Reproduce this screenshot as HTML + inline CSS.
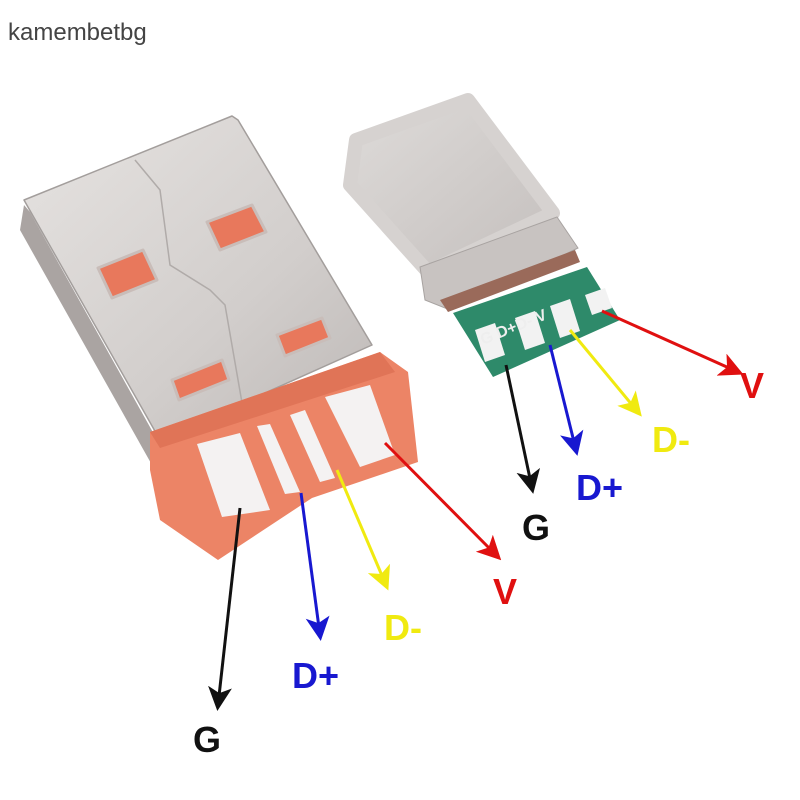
<!DOCTYPE html>
<html><head><style>
html,body{margin:0;padding:0;background:#fff;}
svg{display:block;}
</style></head><body>
<svg width="800" height="800" viewBox="0 0 800 800" xmlns="http://www.w3.org/2000/svg">
<defs>
<linearGradient id="met" x1="0" y1="0" x2="1" y2="1">
<stop offset="0" stop-color="#e6e3e1"/><stop offset="0.6" stop-color="#d2cecc"/><stop offset="1" stop-color="#bdb8b6"/>
</linearGradient>
<linearGradient id="met2" x1="0" y1="0" x2="1" y2="1">
<stop offset="0" stop-color="#dedbd9"/><stop offset="1" stop-color="#c4bfbd"/>
</linearGradient>
<marker id="aK" markerWidth="8" markerHeight="8" refX="6" refY="4" orient="auto" markerUnits="strokeWidth"><path d="M0,0 L8,4 L0,8 L2,4z" fill="#111"/></marker>
<marker id="aB" markerWidth="8" markerHeight="8" refX="6" refY="4" orient="auto" markerUnits="strokeWidth"><path d="M0,0 L8,4 L0,8 L2,4z" fill="#1818d0"/></marker>
<marker id="aY" markerWidth="8" markerHeight="8" refX="6" refY="4" orient="auto" markerUnits="strokeWidth"><path d="M0,0 L8,4 L0,8 L2,4z" fill="#f0ea10"/></marker>
<marker id="aR" markerWidth="8" markerHeight="8" refX="6" refY="4" orient="auto" markerUnits="strokeWidth"><path d="M0,0 L8,4 L0,8 L2,4z" fill="#e01010"/></marker>
</defs>
<text x="8" y="40" font-family="Liberation Sans, sans-serif" font-size="24" fill="#444">kamembetbg</text>

<!-- USB-A body -->
<polygon points="24,205 30,212 160,445 152,465 20,230" fill="#aaa4a2"/>
<polygon points="24,200 232,116 238,120 372,345 160,440" fill="url(#met)" stroke="#a39e9c" stroke-width="1.5" stroke-linejoin="round"/>
<polyline points="135,160 160,190 170,265 210,290 225,305 245,420" fill="none" stroke="#b0aba9" stroke-width="1.5"/>
<g fill="#e8785c" stroke="#c9bdb9" stroke-width="3" stroke-linejoin="round">
<polygon points="207,222 252,205 266,232 220,250"/>
<polygon points="98,268 143,250 157,280 112,298"/>
<polygon points="277,335 322,318 330,338 285,356"/>
<polygon points="172,380 222,360 229,380 179,400"/>
</g>
<!-- orange housing -->
<polygon points="150,432 380,352 408,372 418,462 312,498 218,560 160,520 150,470" fill="#ec8466"/>
<polygon points="150,432 380,352 395,372 160,448" fill="#e07457"/>
<g fill="#f4f2f2">
<polygon points="197,444 240,433 270,510 222,517"/>
<polygon points="257,426 270,424 300,492 285,494"/>
<polygon points="290,415 305,410 335,478 320,482"/>
<polygon points="325,397 370,385 395,455 360,467"/>
</g>

<!-- Type-C -->
<polygon points="356,140 468,100 553,213 428,272 350,185" fill="url(#met2)" stroke="#d6d2d0" stroke-width="14" stroke-linejoin="round"/>
<polygon points="420,267 557,217 578,248 450,310 425,300" fill="#c8c3c1" stroke="#a8a3a1" stroke-width="1"/>
<polygon points="440,300 575,250 580,262 448,312" fill="#9a6a5a"/>
<polygon points="453,313 587,267 620,320 493,377" fill="#2e8a6a"/>
<g fill="#f2f2f2"><polygon points="475,330 495,323 505,355 485,362"/><polygon points="515,318 535,311 545,343 525,350"/><polygon points="550,306 570,299 580,331 560,338"/><polygon points="585,295 605,288 612,308 592,315"/></g>
<text x="483" y="345" font-family="Liberation Sans, sans-serif" font-size="16" font-weight="bold" fill="#eee" transform="rotate(-22 483 345)">G D+D- V</text>

<!-- arrows -->
<g stroke-width="3" fill="none">
<line x1="240" y1="508" x2="218" y2="705" stroke="#111" marker-end="url(#aK)"/>
<line x1="301" y1="493" x2="320" y2="635" stroke="#1818d0" marker-end="url(#aB)"/>
<line x1="337" y1="470" x2="386" y2="585" stroke="#f0ea10" marker-end="url(#aY)"/>
<line x1="385" y1="443" x2="497" y2="556" stroke="#e01010" marker-end="url(#aR)"/>
<line x1="506" y1="365" x2="532" y2="488" stroke="#111" marker-end="url(#aK)"/>
<line x1="550" y1="345" x2="576" y2="450" stroke="#1818d0" marker-end="url(#aB)"/>
<line x1="570" y1="330" x2="638" y2="412" stroke="#f0ea10" marker-end="url(#aY)"/>
<line x1="602" y1="311" x2="738" y2="372" stroke="#e01010" marker-end="url(#aR)"/>
</g>
<g font-family="Liberation Sans, sans-serif" font-weight="bold" font-size="36">
<text x="193" y="752" fill="#111">G</text>
<text x="292" y="688" fill="#1818d0">D+</text>
<text x="384" y="640" fill="#f0ea10">D-</text>
<text x="493" y="604" fill="#e01010">V</text>
<text x="522" y="540" fill="#111">G</text>
<text x="576" y="500" fill="#1818d0">D+</text>
<text x="652" y="452" fill="#f0ea10">D-</text>
<text x="740" y="398" fill="#e01010">V</text>
</g>
</svg>
</body></html>
